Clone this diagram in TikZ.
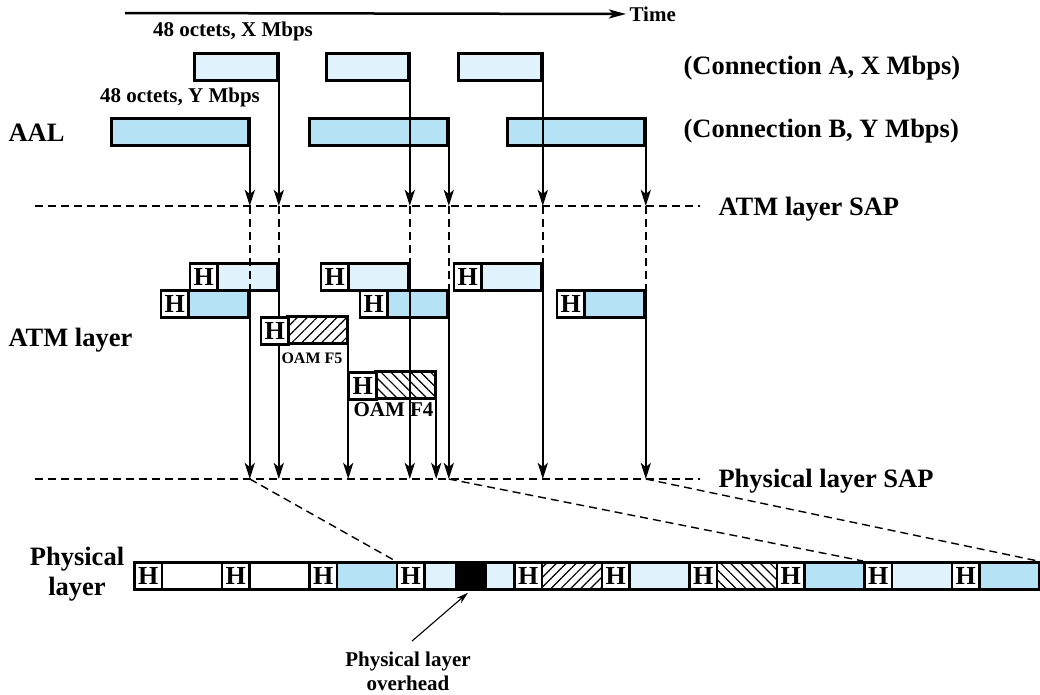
\documentclass[tikz,border=0pt]{standalone}
\usepackage{fontspec}
\setmainfont{Liberation Serif}
\usetikzlibrary{arrows.meta,patterns.meta}
\definecolor{cellA}{RGB}{224,242,251}
\definecolor{cellB}{RGB}{182,226,246}
\tikzset{
  cellbox/.style={draw, line width=2.8pt, inner sep=0pt, anchor=north west, minimum height=27pt},
  hdr/.style={cellbox, fill=white, minimum width=27.5pt, font=\fontsize{26}{26}\selectfont\bfseries},
  payW/.style={cellbox, fill=white, minimum width=60pt},
  payA/.style={cellbox, fill=cellA, minimum width=60pt},
  payB/.style={cellbox, fill=cellB, minimum width=60pt},
  payF/.style={cellbox, minimum width=60pt, pattern={Lines[angle=45,distance=7pt,line width=1.2pt]}},
  payG/.style={cellbox, minimum width=60pt, pattern={Lines[angle=-45,distance=7pt,line width=1.2pt]}},
  sap/.style={line width=1.4pt, dash pattern=on 8pt off 5pt},
  flow/.style={line width=2.5pt, -{Stealth[length=16pt,width=10pt,inset=4pt]}},
  biglbl/.style={font=\fontsize{26.5}{30}\selectfont\bfseries},
  midlbl/.style={font=\fontsize{21}{24}\selectfont\bfseries},
}
\begin{document}
\begin{tikzpicture}[x=1pt, y=-1pt]
  \useasboundingbox (0,0) rectangle (1040,694);
  \coordinate (t0) at (125,13);
  \node[midlbl, anchor=west] (time) at (626,14) {Time};
  \draw[line width=2.5pt, -{Stealth[length=17pt,width=9pt,inset=4pt]}] (t0) -- (time.west);
  \node[midlbl] (octx) at (233,31) {48 octets, X Mbps};
  \node[midlbl] (octy) at (180,97) {48 octets, Y Mbps};
  \node[biglbl, anchor=west] (conna) at (680,68) {(Connection A, X Mbps)};
  \node[biglbl, anchor=west] (connb) at (680,131) {(Connection B, Y Mbps)};
  \node[biglbl, anchor=west] (aal) at (5,133) {AAL};
  \node[biglbl, anchor=west] (atm) at (5,340) {ATM layer};
  \node[biglbl, align=center] (phy) at (77,574) {Physical\\layer};

  \node[payA, minimum width=83pt] (a1) at (193,52) {};
  \node[payA, minimum width=82pt] (a2) at (325,52) {};
  \node[payA, minimum width=83pt] (a3) at (457,52) {};
  \node[payB, minimum width=137pt] (b1) at (110,117) {};
  \node[payB, minimum width=138pt] (b2) at (308,117) {};
  \node[payB, minimum width=137pt] (b3) at (506,117) {};

  \coordinate (atmsap) at (35,206);
  \coordinate (physap) at (35,479);
  \node[biglbl, anchor=west] (atmsapl) at (715,209) {ATM layer SAP};
  \node[biglbl, anchor=west] (physapl) at (715,481) {Physical layer SAP};
  \draw[sap] (atmsap) -- (700,206);
  \draw[sap] (physap) -- (700,479);

  \foreach \c in {a1,a2,a3,b1,b2,b3}
    \draw[flow] (\c.north east) -- (\c.north east |- atmsap);

  \node[payA] (ca1) at (216,262) {};
  \node[payA] (ca2) at (347,262) {};
  \node[payA] (ca3) at (480,262) {};
  \node[payB] (cb1) at (187,289) {};
  \node[payB] (cb2) at (386,289) {};
  \node[payB] (cb3) at (583,289) {};
  \node[payF] (cf5) at (287,316) {};
  \node[payG] (cf4) at (375,371) {};

  \foreach \c in {ca1,ca2,ca3,cb1,cb2,cb3}
    \draw[sap] (\c.north east |- atmsap) -- (\c.north east);
  \foreach \c in {ca1,ca2,ca3,cb1,cb2,cb3,cf5,cf4}
    \draw[flow] (\c.north east) -- (\c.north east |- physap);

  \node[hdr] (ha1) at (188.5,262) {H};
  \node[hdr] (ha2) at (319.5,262) {H};
  \node[hdr] (ha3) at (452.5,262) {H};
  \node[hdr] (hb1) at (159.5,289) {H};
  \node[hdr] (hb2) at (358.5,289) {H};
  \node[hdr] (hb3) at (555.5,289) {H};
  \node[hdr] (hf5) at (259.5,316) {H};
  \node[hdr] (hf4) at (347.5,371) {H};
  \node[font=\fontsize{16}{18}\selectfont\bfseries, anchor=west] (oamf5) at (278,358) {OAM F5};
  \node[midlbl, anchor=west] (oamf4) at (350,410) {OAM F4};

  \coordinate (fend) at (1038,561);
  \draw[sap] (cb1.north east |- physap) -- (395.5,561);
  \draw[sap] (cb2.north east |- physap) -- (863,561);
  \draw[sap] (cb3.north east |- physap) -- (fend);

  \foreach \n/\x/\c in {1/133/payW, 2/220.5/payW, 3/308/payB, 5/513/payF, 6/600.5/payA, 7/688/payG, 8/775.5/payB, 9/863/payA, 10/950.5/payB} {
    \node[\c] (pp\n) at (\x+27.5,561) {};
    \node[hdr] (ph\n) at (\x,561) {H};
  }
  \node[hdr] (ph4) at (395.5,561) {H};
  \node[payA, minimum width=32pt] (pp4) at (423,561) {};
  \node[cellbox, fill=black, minimum width=29pt] (ovh) at (455,561) {};
  \node[payA, minimum width=29pt] (pp4b) at (484,561) {};

  \node[midlbl, align=center] (ovhl) at (408,671) {Physical layer\\overhead};
  \draw[line width=1.1pt, -{Stealth[length=12pt,width=7pt]}] (ovhl.north) ++(4,-7) -- ([xshift=-3pt,yshift=-2pt]ovh.south);
\end{tikzpicture}
\end{document}
